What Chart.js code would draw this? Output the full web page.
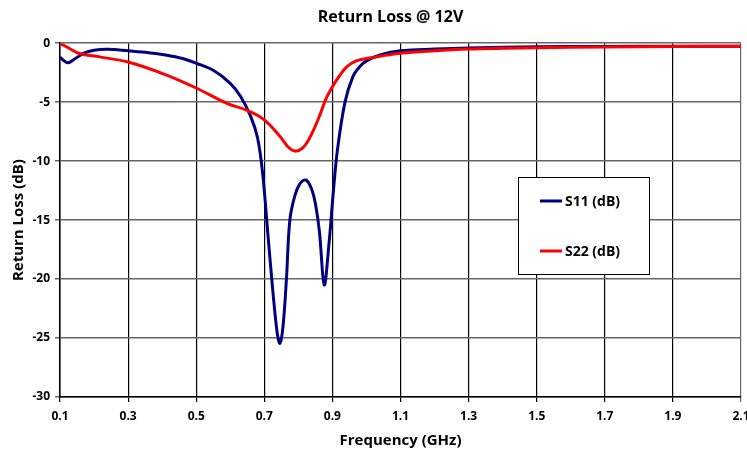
<!DOCTYPE html>
<html>
<head>
<meta charset="utf-8">
<script src="https://cdn.jsdelivr.net/npm/chart.js@4"></script>
<style>
  body { margin: 0; background: #fff; }
</style>
</head>
<body>
<canvas id="rl-chart" width="747" height="451"></canvas>
<script>
// S11 trace (GHz, dB)
var s11Freq = [0.1, 0.123, 0.145, 0.17, 0.2, 0.24, 0.3, 0.36, 0.41, 0.46, 0.5, 0.55, 0.6, 0.63, 0.66, 0.68,
  0.695, 0.71, 0.725, 0.738, 0.746, 0.755, 0.765, 0.775, 0.79, 0.805, 0.822, 0.838, 0.85, 0.862, 0.876,
  0.89, 0.903, 0.915, 0.937, 0.96, 0.98, 1.0, 1.04, 1.1, 1.2, 1.3, 1.5, 1.7, 1.9, 2.1];
var s11 = [-1.2, -1.65, -1.3, -0.85, -0.6, -0.52, -0.65, -0.8, -1.0, -1.3, -1.7, -2.3, -3.4, -4.5, -6.2, -8.0,
  -11, -16, -21, -24.6, -25.45, -24, -20, -15, -12.9, -11.9, -11.6, -12.3, -13.6, -16, -20.5,
  -17, -12.5, -9, -5.0, -2.85, -2.0, -1.5, -1.0, -0.65, -0.5, -0.4, -0.3, -0.27, -0.25, -0.25];

// S22 trace (GHz, dB)
var s22Freq = [0.1, 0.128, 0.157, 0.216, 0.3, 0.413, 0.5, 0.59, 0.65, 0.7, 0.746, 0.77, 0.79, 0.81, 0.826, 0.844,
  0.863, 0.88, 0.9, 0.92, 0.942, 0.97, 1.0, 1.04, 1.1, 1.2, 1.3, 1.5, 1.7, 1.9, 2.1];
var s22 = [0, -0.45, -0.87, -1.16, -1.6, -2.7, -3.8, -5.1, -5.7, -6.5, -7.9, -8.8, -9.15, -8.95, -8.4, -7.4,
  -6.1, -4.8, -3.7, -2.8, -2.0, -1.5, -1.3, -1.1, -0.85, -0.65, -0.5, -0.38, -0.32, -0.28, -0.25];

var seriesNames = ["S11 (dB)", "S22 (dB)"];
var seriesColors = ["#000080", "#ff0000"];

var FONT = "'Open Sans', 'DejaVu Sans', sans-serif";

function toPoints(xs, ys) {
  return xs.map(function (x, i) { return { x: x, y: ys[i] }; });
}

// nudge the title a little left, like the original sheet
var titleShift = {
  id: "titleShift",
  afterLayout: function (chart) {
    if (chart.titleBlock) {
      chart.titleBlock.left = 40;
      chart.titleBlock.right = 741;
    }
  }
};

// legend drawn as a boxed panel inside the plot
var boxLegend = {
  id: "boxLegend",
  afterDraw: function (chart) {
    var c = chart.ctx;
    var bx = 518, by = 177, bw = 131, bh = 97;
    c.save();
    c.fillStyle = "#fff";
    c.fillRect(bx, by, bw, bh);
    c.strokeStyle = "#000";
    c.lineWidth = 1;
    c.strokeRect(bx + 0.5, by + 0.5, bw, bh);
    c.font = "bold 14px " + FONT;
    c.textBaseline = "middle";
    chart.data.datasets.forEach(function (ds, i) {
      var y = (i === 0) ? 201 : 251;
      c.strokeStyle = ds.borderColor;
      c.lineWidth = 3;
      c.beginPath();
      c.moveTo(540, y);
      c.lineTo(562, y);
      c.stroke();
      c.fillStyle = "#000";
      c.fillText(ds.label, 565, y + 1);
    });
    c.restore();
  }
};

var ctx = document.getElementById("rl-chart");

var chart = new Chart(ctx, {
  type: "line",
  data: {
    datasets: [
      {
        label: seriesNames[0],
        data: toPoints(s11Freq, s11),
        borderColor: seriesColors[0],
        backgroundColor: seriesColors[0],
        borderWidth: 3,
        pointRadius: 0,
        fill: false,
        tension: 0.35,
        order: 2
      },
      {
        label: seriesNames[1],
        data: toPoints(s22Freq, s22),
        borderColor: seriesColors[1],
        backgroundColor: seriesColors[1],
        borderWidth: 3,
        pointRadius: 0,
        fill: false,
        tension: 0.35,
        order: 1
      }
    ]
  },
  options: {
    responsive: false,
    animation: false,
    layout: { padding: { left: 0, right: 6, top: 0, bottom: 0 } },
    plugins: {
      legend: { display: false },
      tooltip: { enabled: false },
      title: {
        display: true,
        fullSize: false,
        text: "Return Loss @ 12V",
        color: "#000",
        font: { family: FONT, size: 16, weight: "bold", lineHeight: 1.2 },
        padding: { top: 8, bottom: 16 }
      }
    },
    scales: {
      x: {
        type: "linear",
        min: 0.1,
        max: 2.1,
        ticks: {
          stepSize: 0.2,
          color: "#000",
          padding: 7,
          maxRotation: 0,
          font: { family: FONT, size: 12, weight: "bold" },
          callback: function (v) { return v.toFixed(1); }
        },
        grid: {
          color: function (c) { return c.index === 10 ? "#666" : "#000"; },
          lineWidth: 1.2,
          tickLength: 5
        },
        border: { color: "#000", width: 1.5 },
        title: {
          display: true,
          text: "Frequency (GHz)",
          color: "#000",
          font: { family: FONT, size: 15, weight: "bold", lineHeight: 1.2 },
          padding: { top: 0, bottom: 1 }
        },
        afterFit: function (scale) {
          scale.height = 54;
          scale.paddingLeft = 0;
          scale.paddingRight = 0;
        }
      },
      y: {
        min: -30,
        max: 0,
        ticks: {
          stepSize: 5,
          color: "#000",
          padding: 5,
          font: { family: FONT, size: 12, weight: "bold" }
        },
        grid: {
          color: "#666",
          lineWidth: 1.5,
          tickLength: 5
        },
        border: { color: "#000", width: 1.5 },
        title: {
          display: true,
          text: "Return Loss (dB)",
          color: "#000",
          font: { family: FONT, size: 15, weight: "bold", lineHeight: 1.2 },
          padding: { top: 10, bottom: 0 }
        },
        afterFit: function (scale) {
          scale.width = 60;
          scale.paddingTop = 0;
          scale.paddingBottom = 0;
        }
      }
    }
  },
  plugins: [titleShift, boxLegend]
});
</script>
</body>
</html>
